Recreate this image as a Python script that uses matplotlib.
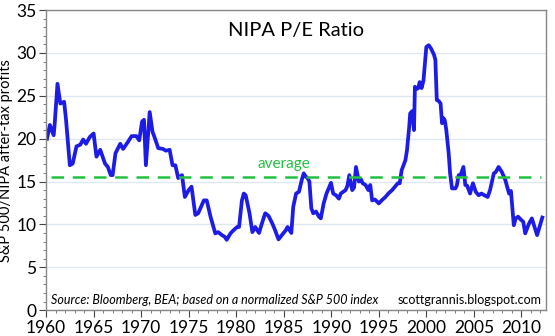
import numpy as np
import matplotlib
matplotlib.use("Agg")
import matplotlib.pyplot as plt
from matplotlib.ticker import MultipleLocator

plt.rcParams['font.family'] = ['Lato', 'DejaVu Sans']

years = [1960.1, 1960.4, 1960.8, 1960.9, 1961.2, 1961.5, 1961.9, 1962.1, 1962.5, 1962.8,
         1963.2, 1963.6, 1963.9, 1964.2, 1964.6, 1965.0, 1965.3, 1965.7, 1966.2, 1966.5,
         1966.8, 1967.0, 1967.3, 1967.8, 1968.1, 1968.6, 1969.0, 1969.5, 1969.8, 1970.1,
         1970.3, 1970.5, 1970.9, 1971.2, 1971.4, 1971.8, 1972.3, 1972.6, 1973.0, 1973.3,
         1973.6, 1973.9, 1974.3, 1974.6, 1975.0, 1975.3, 1975.7, 1976.0, 1976.6, 1976.9,
         1977.3, 1977.8, 1978.1, 1978.5, 1978.8, 1979.0, 1979.4, 1979.7, 1980.1, 1980.3,
         1980.6, 1980.8, 1981.0, 1981.4, 1981.7, 1982.0, 1982.4, 1982.7, 1983.05, 1983.4,
         1983.8, 1984.1, 1984.45, 1984.8, 1985.2, 1985.4, 1985.8, 1986.0, 1986.3, 1986.6,
         1986.9, 1987.1, 1987.3, 1987.5, 1987.7, 1987.9, 1988.1, 1988.4, 1988.7, 1988.9,
         1989.2, 1989.5, 1989.97, 1990.2, 1990.5, 1990.8, 1991.0, 1991.5, 1991.7, 1991.9,
         1992.2, 1992.4, 1992.6, 1992.9, 1993.1, 1993.3, 1993.6, 1993.9, 1994.1, 1994.3,
         1994.6, 1995.0, 1995.3, 1995.7, 1996.0, 1996.4, 1996.7, 1997.0, 1997.2, 1997.4,
         1997.8, 1997.97, 1998.2, 1998.3, 1998.5, 1998.7, 1998.8, 1999.0, 1999.15, 1999.3,
         1999.5, 1999.7, 2000.0, 2000.25, 2000.5, 2000.8, 2000.95, 2001.1, 2001.3, 2001.5,
         2001.65, 2001.8, 2001.95, 2002.1, 2002.35, 2002.5, 2002.7, 2003.05, 2003.2, 2003.4,
         2003.6, 2003.9, 2004.1, 2004.3, 2004.6, 2004.9, 2005.2, 2005.5, 2005.8, 2006.1,
         2006.45, 2006.7, 2007.1, 2007.3, 2007.6, 2007.95, 2008.3, 2008.7, 2008.9, 2009.2,
         2009.4, 2009.65, 2009.9, 2010.2, 2010.4, 2010.8, 2011.1, 2011.65, 2012.2]
pe = [20.0, 21.6, 20.4, 21.6, 26.4, 24.1, 24.3, 22.2, 16.9, 17.1,
      19.1, 19.3, 19.9, 19.4, 20.2, 20.6, 17.9, 18.7, 17.1, 16.7,
      15.75, 15.75, 18.3, 19.4, 18.8, 19.6, 20.3, 20.3, 19.8, 22.0,
      22.2, 16.9, 23.1, 20.8, 20.2, 18.9, 18.8, 18.6, 18.7, 16.9,
      16.9, 15.4, 15.75, 13.2, 14.0, 14.4, 11.1, 11.3, 12.8, 12.8,
      10.9, 8.95, 9.1, 8.75, 8.55, 8.2, 8.95, 9.3, 9.7, 9.7,
      12.8, 13.6, 13.4, 11.3, 9.1, 9.7, 9.0, 10.1, 11.3, 11.0,
      10.1, 9.3, 8.25, 8.75, 9.3, 9.7, 9.0, 12.05, 13.6, 13.8,
      15.2, 15.95, 15.6, 15.4, 15.0, 11.9, 11.3, 11.5, 10.9, 10.7,
      12.45, 13.6, 14.85, 13.6, 13.4, 13.0, 13.6, 14.0, 14.5, 15.75,
      14.0, 14.3, 16.7, 15.0, 15.3, 14.8, 14.6, 14.0, 14.6, 12.8,
      12.9, 12.45, 12.8, 13.2, 13.6, 14.0, 14.4, 14.8, 14.8, 16.3,
      17.5, 18.7, 21.4, 22.95, 23.2, 21.0, 26.05, 25.8, 25.9, 26.6,
      25.9, 26.8, 30.7, 30.9, 30.5, 29.8, 29.2, 24.5, 24.4, 24.1,
      21.8, 22.4, 22.1, 21.0, 18.3, 15.95, 14.2, 14.2, 14.5, 15.75,
      15.75, 16.7, 14.6, 14.5, 13.6, 14.8, 13.8, 13.4, 13.6, 13.4,
      13.2, 14.0, 15.95, 16.1, 16.7, 16.1, 15.2, 13.6, 13.9, 9.9,
      10.7, 10.9, 10.6, 10.3, 8.95, 10.1, 10.7, 8.75, 10.8]
average = 15.5

fig = plt.figure(figsize=(5.55, 3.36), dpi=100)
ax = fig.add_axes([0.083, 0.077, 0.901, 0.893])

ax.plot(years, pe, color="#1c1ce6", linewidth=2.7, solid_joinstyle="round")
ax.axhline(average, color="#22c040", linewidth=1.8, dashes=(5, 3.5), xmin=0.01, xmax=0.99)

ax.set_xlim(1960, 2012.6)
ax.set_ylim(0, 35)
ax.xaxis.set_major_locator(MultipleLocator(5))
ax.xaxis.set_minor_locator(MultipleLocator(1))
ax.yaxis.set_major_locator(MultipleLocator(5))
ax.yaxis.set_minor_locator(MultipleLocator(1))
ax.grid(axis="y", color="#dde8f2", linewidth=1.0)
ax.set_axisbelow(True)
ax.tick_params(axis="both", which="major", labelsize=12.5, length=5, color="#444444", pad=2)
ax.tick_params(axis="both", which="minor", length=2.5, color="#666666")
for s in ax.spines.values():
    s.set_color("#888888")
    s.set_linewidth(1.0)

ax.set_ylabel("S&P 500/NIPA after-tax profits", fontsize=10.5, labelpad=2)
ax.text(0.5, 0.96, "NIPA P/E Ratio", transform=ax.transAxes, ha="center", va="top", fontsize=14.5)
ax.text(1985.0, 16.2, "average", color="#22c040", ha="center", va="bottom", fontsize=11)
ax.text(0.01, 0.015, "Source: Bloomberg, BEA; based on a normalized S&P 500 index",
        transform=ax.transAxes, ha="left", va="bottom", fontsize=9, style="italic")
ax.text(0.99, 0.015, "scottgrannis.blogspot.com", transform=ax.transAxes,
        ha="right", va="bottom", fontsize=9)

fig.savefig("out.png", dpi=100)
